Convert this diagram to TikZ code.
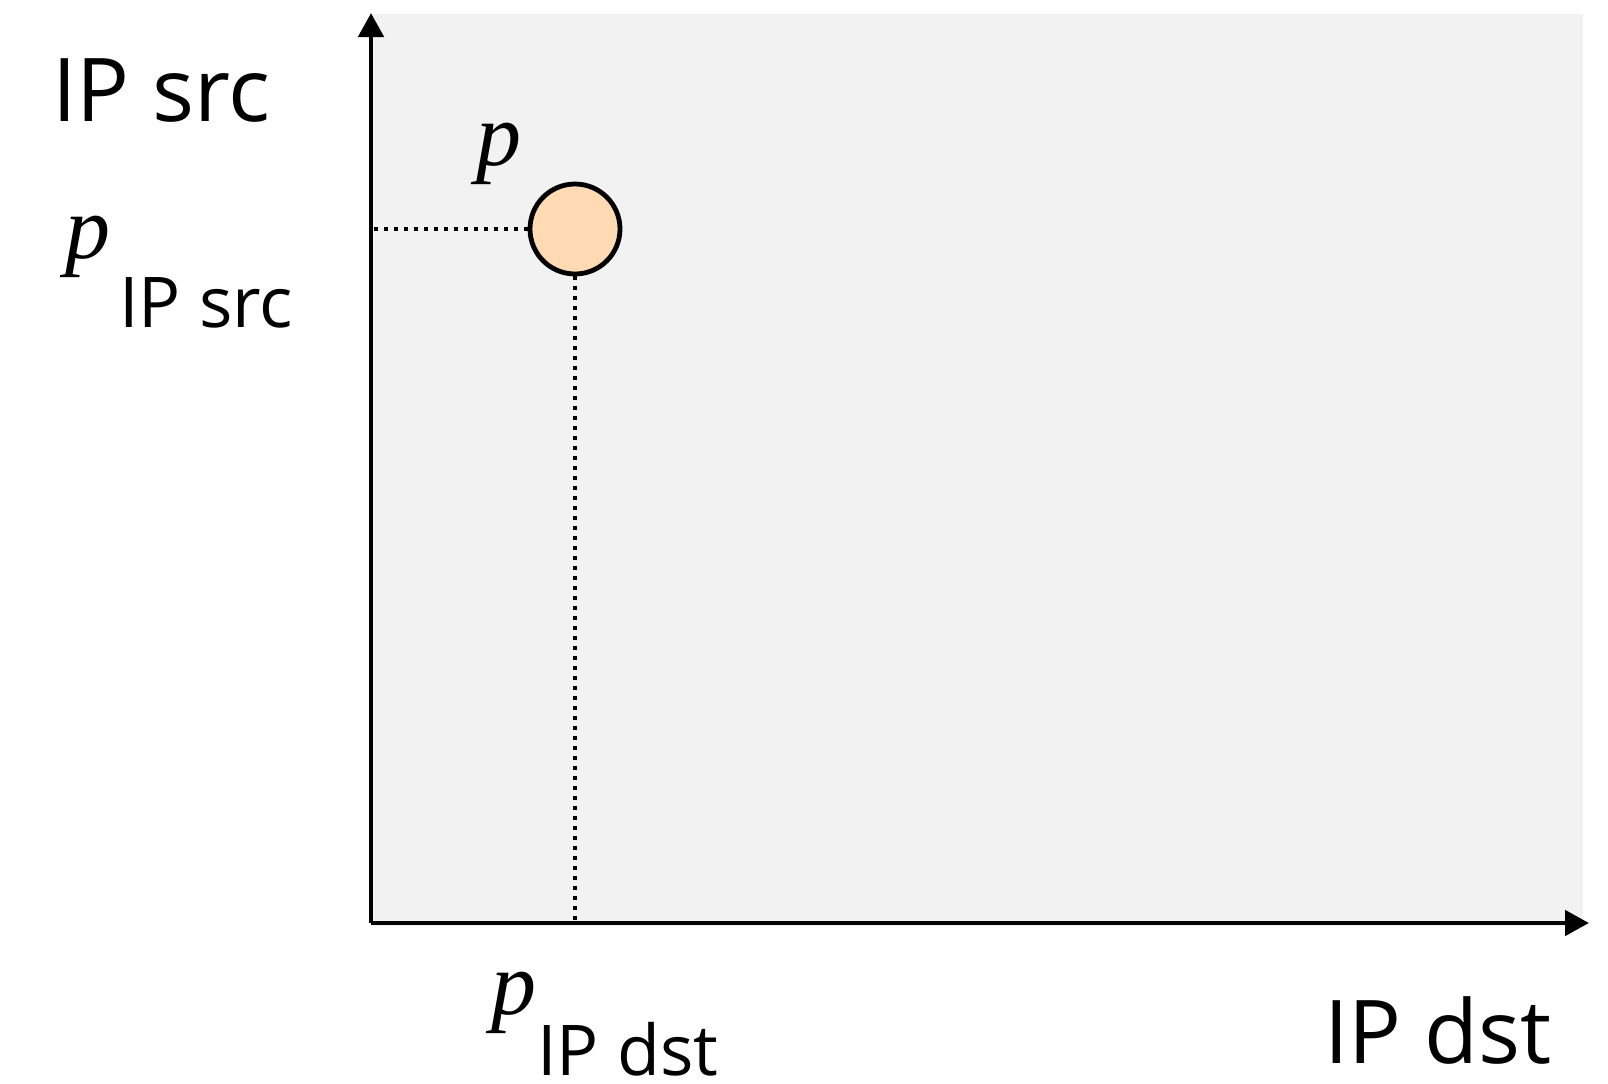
\documentclass[tikz,border=0pt]{standalone}
\usepackage{fontspec}
\setmainfont{Open Sans}
\newfontfamily\pfont{Liberation Serif}
\usetikzlibrary{arrows.meta}
\definecolor{plane}{RGB}{242,242,242}
\definecolor{peach}{RGB}{255,218,178}
\tikzset{
  axis/.style={line width=2.4pt, -{Triangle[length=12pt,width=12.5pt]}},
  guide/.style={line width=2pt, dash pattern=on 2pt off 3pt},
  big/.style={inner sep=0pt, anchor=base west, font=\fontsize{44}{50}\selectfont},
  small/.style={inner sep=0pt, anchor=base west, font=\fontsize{35}{40}\selectfont},
  pvar/.style={inner sep=0pt, anchor=base west, font=\fontsize{45}{50}\selectfont\pfont\itshape},
}
\begin{document}
\begin{tikzpicture}[x=0.5pt, y=-0.5pt]
\useasboundingbox (0,0) rectangle (1608,1083);

\def\ox{371}
\def\oy{923}

% grey plane
\fill[plane] (\ox,14) rectangle (1583,926);

% axes
\coordinate (o) at (\ox,\oy);
\coordinate (ytop) at (\ox,13);
\coordinate (xend) at (1589,\oy);
\draw[axis] (o) -- (ytop);
\draw[axis] (o) -- (xend);

\node[big] (ylab) at (52,121) {IP src};
\node[big] (xlab) at (1324,1063) {IP dst};

% the packet
\node[circle, draw, line width=2.4pt, fill=peach, minimum size=45pt, inner sep=0pt] (pt) at (575,229) {};
\node[pvar] (plab) at (476,165) {p};

\coordinate (ysrc) at (\ox,229);
\coordinate (xdst) at (575,\oy);
\draw[guide] (pt.west) -- (ysrc);
\draw[guide] (pt.south) -- (xdst);

\node[pvar] (psrc) at (65,258) {p};
\node[small] (psrcsub) at (119,327) {IP src};
\node[pvar] (pdst) at (491,1014) {p};
\node[small] (pdstsub) at (537,1075) {IP dst};

\end{tikzpicture}
\end{document}
